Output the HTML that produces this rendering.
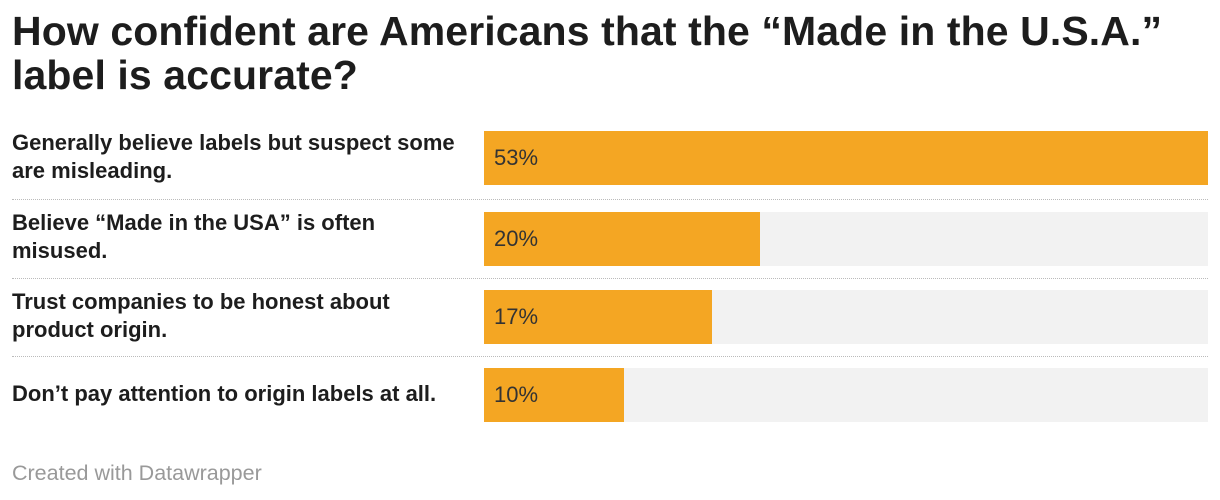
<!DOCTYPE html>
<html><head><meta charset="utf-8"><style>
body{margin:0;width:1220px;height:500px;background:#fff;font-family:"Liberation Sans",Arial,sans-serif;position:relative;overflow:hidden}
h1{position:absolute;left:12px;top:9px;margin:0;font-size:41px;line-height:44px;font-weight:bold;color:#1d1d1d;letter-spacing:0.1px;white-space:nowrap}
.lab{position:absolute;left:12px;width:462px;font-size:22px;font-weight:bold;line-height:28px;color:#1d1d1d}
.bg{position:absolute;left:484px;width:724px;height:54px;background:#f2f2f2}
.bar{position:absolute;left:0;top:0;height:54px;background:#f4a623}
.val{position:absolute;left:10px;top:0;line-height:54px;font-size:22px;color:#333}
.sep{position:absolute;left:12px;width:1196px;border-top:1px dotted #bbb}
.foot{position:absolute;left:12px;top:461px;font-size:21.5px;color:#999}
</style></head><body>
<h1>How confident are Americans that the “Made in the U.S.A.”<br>label is accurate?</h1>

<div class="lab" style="top:129px">Generally believe labels but suspect some are misleading.</div>
<div class="bg" style="top:131px"><div class="bar" style="width:724px"></div><div class="val">53%</div></div>
<div class="sep" style="top:199px"></div>

<div class="lab" style="top:209px">Believe “Made in the USA” is often misused.</div>
<div class="bg" style="top:212px"><div class="bar" style="width:276px"></div><div class="val">20%</div></div>
<div class="sep" style="top:278px"></div>

<div class="lab" style="top:288px">Trust companies to be honest about product origin.</div>
<div class="bg" style="top:290px"><div class="bar" style="width:228px"></div><div class="val">17%</div></div>
<div class="sep" style="top:356px"></div>

<div class="lab" style="top:380px">Don’t pay attention to origin labels at all.</div>
<div class="bg" style="top:368px"><div class="bar" style="width:140px"></div><div class="val">10%</div></div>

<div class="foot">Created with Datawrapper</div>
</body></html>
